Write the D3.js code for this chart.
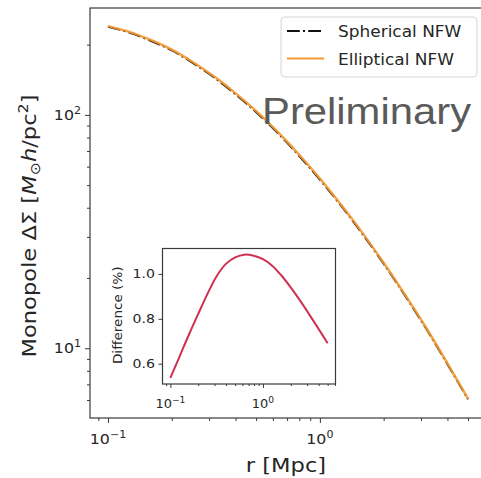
<!DOCTYPE html>
<html>
<head>
<meta charset="utf-8">
<script src="https://cdn.jsdelivr.net/npm/d3@7"></script>
<style>
  body { margin: 0; background: #fff; }
  svg { display: block; font-family: "DejaVu Sans", sans-serif; }
</style>
</head>
<body>
<svg id="canvas" width="481" height="478"></svg>
<script>
// data
var r = [0.1, 0.126, 0.158, 0.2, 0.251, 0.316, 0.398, 0.501, 0.631, 0.794, 1.0, 1.259, 1.585, 1.995, 2.512, 3.162, 3.981, 5.0];
var spherical_nfw = [238.8, 225.4, 208.4, 188.8, 167.1, 144.9, 123.0, 102.6, 83.8, 67.1, 52.8, 40.8, 31.0, 23.1, 16.9, 12.2, 8.61, 6.04];
var elliptical_nfw = [240.1, 226.8, 209.9, 190.4, 168.6, 146.3, 124.3, 103.7, 84.7, 67.8, 53.4, 41.2, 31.3, 23.3, 17.05, 12.3, 8.68, 6.08];
var difference_pct = [0.537, 0.633, 0.728, 0.822, 0.91, 0.99, 1.045, 1.074, 1.086, 1.081, 1.066, 1.037, 0.993, 0.94, 0.882, 0.82, 0.756, 0.691];

var main_x_major = [0.1, 1];
var main_x_minor = [0.09, 0.2, 0.3, 0.4, 0.5, 0.6, 0.7, 0.8, 0.9, 2, 3, 4, 5, 6];
var main_y_major = [10, 100];
var main_y_minor = [6, 7, 8, 9, 20, 30, 40, 50, 60, 70, 80, 90, 200];
var inset_y_ticks = [0.6, 0.8, 1.0];
var legend_labels = ["Spherical NFW", "Elliptical NFW"];

var SX = 1.13; // picture is stretched a little sideways
var ink = "#262626", spine = "#3a3a3a";
var svg = d3.select('#canvas');

// text helper: g at (x,y), stretched by SX
function label(parent, x, y, size, anchor, rot){
  var g = parent.append('g').attr('transform', 'translate(' + x + ',' + y + ')' + (rot ? ' rotate(' + rot + ')' : '') + ' scale(' + SX + ',1)');
  return g.append('text').attr('font-size', size).attr('text-anchor', anchor).attr('fill', ink);
}
function pow10(parent, x, y, size, v, anchor){
  var e = Math.round(Math.log10(v));
  var t = label(parent, x, y, size, anchor);
  t.append('tspan').text('10');
  t.append('tspan').attr('dy', -0.45*size).attr('font-size', size*0.7).text(String(e).replace('-', '\u2212'));
}

// ************************************************************************************** //
// Main axes

var L = 90, R = 486, T = 8, B = 418;
var x = d3.scaleLog().domain([Math.pow(10, -1.085), Math.pow(10, 0.784)]).range([L, R]);
var y = d3.scaleLog().domain([Math.pow(10, 0.701), Math.pow(10, 2.458)]).range([B, T]);

var main = svg.append('g').attr('id', 'main');
main.append('rect').attr('x', L).attr('y', T).attr('width', R - L).attr('height', B - T)
  .attr('fill', 'none').attr('stroke', spine).attr('stroke-width', 1.2);

function ticks(g, axis){
  g.call(axis);
  g.select('.domain').remove();
  g.selectAll('line').attr('stroke', spine).attr('stroke-width', 1);
  g.selectAll('text').remove();
}
ticks(main.append('g').attr('transform', 'translate(0,' + B + ')'), d3.axisBottom(x).tickValues(main_x_major).tickSize(5).tickSizeOuter(0));
ticks(main.append('g').attr('transform', 'translate(0,' + B + ')'), d3.axisBottom(x).tickValues(main_x_minor).tickSize(3).tickSizeOuter(0));
ticks(main.append('g').attr('transform', 'translate(' + L + ',0)'), d3.axisLeft(y).tickValues(main_y_major).tickSize(5).tickSizeOuter(0));
ticks(main.append('g').attr('transform', 'translate(' + L + ',0)'), d3.axisLeft(y).tickValues(main_y_minor).tickSize(3).tickSizeOuter(0));

main_x_major.forEach(function(v){ pow10(main, x(v), 444, 14, v, 'middle'); });
main_y_major.forEach(function(v){ pow10(main, 81, y(v) + 5, 14, v, 'end'); });

// axis labels
label(main, (L + R)/2 - 2, 472, 20, 'middle').text('r [Mpc]');
var yl = label(main, 36, (T + B)/2 + 13, 20, 'middle', -90);
yl.append('tspan').text('Monopole \u0394\u03A3 [');
yl.append('tspan').attr('font-style', 'italic').text('M');
yl.append('tspan').attr('dy', 4).attr('font-size', 14).text('\u2299');
yl.append('tspan').attr('dy', -4).attr('font-style', 'italic').text('h');
yl.append('tspan').text('/pc');
yl.append('tspan').attr('dy', -8).attr('font-size', 14).text('2');
yl.append('tspan').attr('dy', 8).text(']');

// curves
var lineGen = d3.line().x(function(d){ return x(d[0]); }).y(function(d){ return y(d[1]); }).curve(d3.curveCatmullRom);
main.append('path').attr('d', lineGen(r.map(function(d, i){ return [d, spherical_nfw[i]]; })))
  .attr('fill', 'none').attr('stroke', '#111').attr('stroke-width', 2).attr('stroke-dasharray', '12.8,3.2,2,3.2');
main.append('path').attr('d', lineGen(r.map(function(d, i){ return [d, elliptical_nfw[i]]; })))
  .attr('fill', 'none').attr('stroke', '#f39a33').attr('stroke-width', 2.4).attr('opacity', 0.92);

// legend
var leg = main.append('g').attr('id', 'legend');
leg.append('rect').attr('x', 281).attr('y', 17).attr('width', 196).attr('height', 60).attr('rx', 4)
  .attr('fill', '#fff').attr('fill-opacity', 0.8).attr('stroke', '#d6d6d6').attr('stroke-width', 1);
leg.append('line').attr('x1', 287).attr('x2', 324).attr('y1', 31).attr('y2', 31)
  .attr('stroke', '#111').attr('stroke-width', 2).attr('stroke-dasharray', '12.8,3.2,2,3.2');
leg.append('line').attr('x1', 287).attr('x2', 324).attr('y1', 58.5).attr('y2', 58.5)
  .attr('stroke', '#f39a33').attr('stroke-width', 2);
label(leg, 338, 37, 15, 'start').text(legend_labels[0]);
label(leg, 338, 64.5, 15, 'start').text(legend_labels[1]);

// watermark
label(main, 262, 124, 37, 'start').attr('font-family', '"Liberation Sans", Arial, sans-serif').attr('fill', '#5a5a5a').text('Preliminary');

// ************************************************************************************** //
// Inset

var iL = 162.5, iR = 335.5, iT = 248.5, iB = 384;
var ix = d3.scaleLog().domain([Math.pow(10, -1.085), Math.pow(10, 0.784)]).range([iL, iR]);
var iy = d3.scaleLinear().domain([0.5096, 1.1134]).range([iB, iT]);
var inset = svg.append('g').attr('id', 'inset');
inset.append('rect').attr('x', iL).attr('y', iT).attr('width', iR - iL).attr('height', iB - iT)
  .attr('fill', '#fff').attr('stroke', spine).attr('stroke-width', 1.2);
ticks(inset.append('g').attr('transform', 'translate(0,' + iB + ')'), d3.axisBottom(ix).tickValues(main_x_major).tickSize(4).tickSizeOuter(0));
ticks(inset.append('g').attr('transform', 'translate(0,' + iB + ')'), d3.axisBottom(ix).tickValues(main_x_minor).tickSize(2).tickSizeOuter(0));
ticks(inset.append('g').attr('transform', 'translate(' + iL + ',0)'), d3.axisLeft(iy).tickValues(inset_y_ticks).tickSize(4).tickSizeOuter(0));
main_x_major.forEach(function(v){ pow10(inset, ix(v), 408, 11.5, v, 'middle'); });
inset_y_ticks.forEach(function(v){ label(inset, 155, iy(v) + 4.5, 12.5, 'end').text(d3.format('.1f')(v)); });
label(inset, 122, (iT + iB)/2 - 1, 12, 'middle', -90).text('Difference (%)');

var iline = d3.line().x(function(d){ return ix(d[0]); }).y(function(d){ return iy(d[1]); }).curve(d3.curveCatmullRom);
inset.append('path').attr('d', iline(r.map(function(d, i){ return [d, difference_pct[i]]; })))
  .attr('fill', 'none').attr('stroke', '#d0304f').attr('stroke-width', 2);
</script>
</body>
</html>
